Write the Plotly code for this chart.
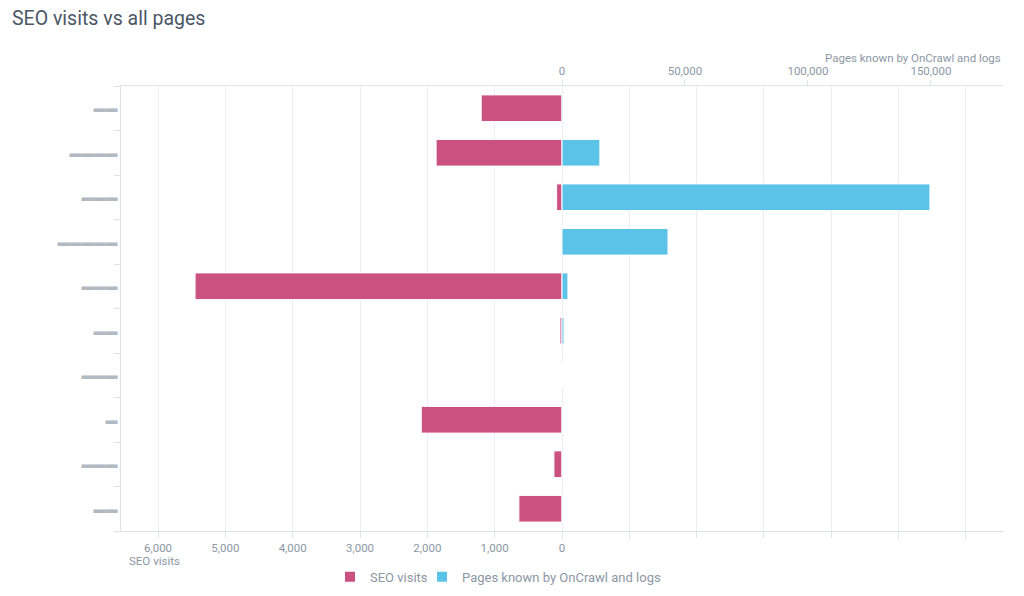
import plotly.graph_objects as go

categories = ["▬▬", "▬▬▬▬", "▬▬▬", "▬▬▬▬▬", "▬▬▬", "▬▬", "▬▬▬", "▬", "▬▬▬", "▬▬"]
cat_ids = [f"c{i}" for i in range(len(categories))]
seo_visits = [1200, 1870, 80, 10, 5450, 30, 0, 2090, 120, 640]
pages_known = [400, 15400, 149600, 43100, 2400, 800, 0, 300, 300, 300]

bottom_ticks = list(range(-6000, 7000, 1000))
bottom_text = [f"{v:,}" if v >= 0 else "" for v in bottom_ticks]
top_ticks = [0, 50000, 100000, 150000]
top_text = [f"{v:,}" for v in top_ticks]

PINK = "#ca5180"
BLUE = "#5bc3e8"
TICK = "#8c97a4"
GRID = "#eceef2"
LINE = "#dfe2e8"
FONT = "Roboto"

W, H = 1016, 588

fig = go.Figure()
fig.add_trace(go.Bar(
    y=cat_ids, x=seo_visits, orientation="h", name="SEO visits",
    marker=dict(color=PINK, line=dict(color="white", width=1)),
    xaxis="x", yaxis="y", legend="legend", showlegend=True,
))
fig.add_trace(go.Bar(
    y=cat_ids, x=pages_known, orientation="h", name="Pages known by OnCrawl and logs",
    marker=dict(color=BLUE, line=dict(color="white", width=1)),
    xaxis="x2", yaxis="y", legend="legend2", showlegend=True,
))

legend_style = dict(orientation="h", xanchor="left", y=-0.103, yanchor="middle",
                    font=dict(size=13, color=TICK), itemsizing="constant", itemwidth=30,
                    bgcolor="rgba(0,0,0,0)", visible=True)

fig.update_layout(
    width=W, height=H, showlegend=True,
    margin=dict(l=113, r=21, t=78, b=65, autoexpand=False),
    paper_bgcolor="white", plot_bgcolor="white",
    font=dict(family=FONT, color=TICK, size=11),
    bargap=0.4,
    title=dict(text="SEO visits vs all pages", x=4 / W, xref="container", xanchor="left",
               y=1 - 10 / H, yref="container", yanchor="middle",
               font=dict(size=19.5, color="#4a5766", family=FONT)),
    xaxis=dict(
        range=[6550, -6550], tickvals=bottom_ticks, ticktext=bottom_text,
        showgrid=True, gridcolor=GRID, zeroline=False, automargin=False,
        showline=True, linecolor=LINE, linewidth=1,
        ticks="outside", ticklen=6, tickcolor=LINE,
        tickfont=dict(size=11.5, color=TICK),
    ),
    xaxis2=dict(
        range=[-179300, 179300], overlaying="x", side="top",
        tickvals=top_ticks, ticktext=top_text, automargin=False,
        showgrid=False, zeroline=False,
        showline=True, linecolor=LINE, linewidth=1,
        ticks="outside", ticklen=5, tickcolor=LINE,
        tickfont=dict(size=11.5, color=TICK),
    ),
    yaxis=dict(
        categoryorder="array", categoryarray=cat_ids,
        tickvals=cat_ids, ticktext=categories, automargin=False,
        autorange="reversed", showgrid=False, zeroline=False,
        showline=True, linecolor=LINE, linewidth=1,
        ticks="outside", ticklen=6, tickcolor=LINE, tickson="boundaries",
        tickfont=dict(size=12, color="#b3b9c2"),
    ),
    legend=dict(x=(330 - 121) / 882, **legend_style),
    legend2=dict(x=(422 - 121) / 882, **legend_style),
    annotations=[
        dict(text="SEO visits", xref="paper", yref="paper", x=0.007, y=-0.068,
             xanchor="left", yanchor="middle", showarrow=False,
             font=dict(size=11.5, color=TICK)),
        dict(text="Pages known by OnCrawl and logs", xref="paper", yref="paper", x=1.0, y=1.063,
             xanchor="right", yanchor="middle", showarrow=False,
             font=dict(size=11.5, color=TICK)),
    ],
)

fig.write_html("out.html")
